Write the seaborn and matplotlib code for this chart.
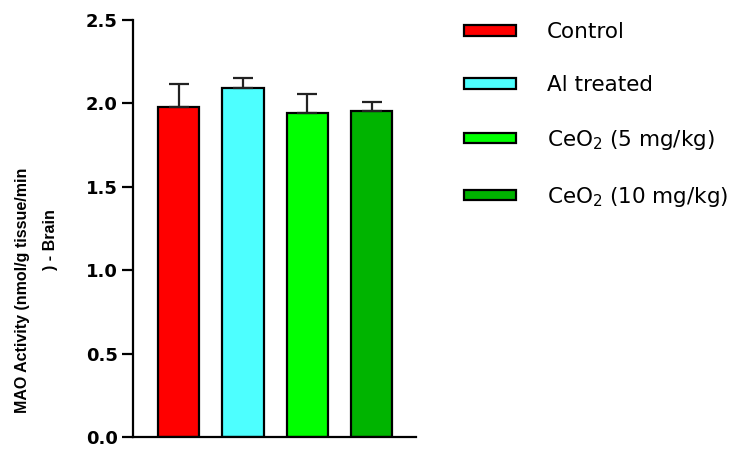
import matplotlib
matplotlib.use("Agg")
import matplotlib.pyplot as plt
import seaborn as sns
import pandas as pd

categories = ["Control", "Al treated", "CeO$_2$ (5 mg/kg)", "CeO$_2$ (10 mg/kg)"]
means = [1.98, 2.09, 1.94, 1.955]
errors = [0.135, 0.065, 0.115, 0.055]
colors = ["#FF0000", "#4DFFFF", "#00FF00", "#00B400"]
yticks = [0.0, 0.5, 1.0, 1.5, 2.0, 2.5]

sns.set_theme(style="ticks")
plt.rcParams["font.family"] = ["DejaVu Sans"]
plt.rcParams["text.color"] = "black"
plt.rcParams["axes.labelcolor"] = "black"
plt.rcParams["ytick.color"] = "black"

df = pd.DataFrame({"group": categories, "value": means})

fig = plt.figure(figsize=(7.47, 4.5), dpi=100)
ax = fig.add_axes([133 / 747, 1 - 437 / 450, (416 - 133) / 747, (437 - 20) / 450])

sns.barplot(data=df, x="group", y="value", hue="group", order=categories,
            hue_order=categories, palette=colors, width=0.64, dodge=False,
            saturation=1, edgecolor="black", linewidth=1.6, errorbar=None,
            ax=ax, legend=True)

xpos = list(range(len(categories)))
ax.errorbar(xpos, means, yerr=[[0] * len(errors), errors], fmt="none",
            ecolor="#222222", elinewidth=1.6, capsize=7.5, capthick=1.6, zorder=1)

ax.set_xlim(-0.71, 3.69)
ax.set_ylim(0, 2.5)
ax.set_yticks(yticks)
ax.set_yticklabels([f"{t:.1f}" for t in yticks], fontsize=13, fontweight="bold",
                   color="black")
ax.set_xticks([])
ax.set_xlabel("")
ax.set_ylabel("")
for s in ["top", "right"]:
    ax.spines[s].set_visible(False)
for s in ["left", "bottom"]:
    ax.spines[s].set_linewidth(1.6)
    ax.spines[s].set_color("black")
ax.tick_params(axis="y", length=8, width=1.6, pad=3, colors="black")

handles, labels = ax.get_legend_handles_labels()
ax.get_legend().remove()
fig.legend(handles, labels, loc="upper left", bbox_to_anchor=(445 / 747, 1 - 3 / 450),
           frameon=False, fontsize=15.5, handlelength=2.42, handleheight=0.37,
           handletextpad=1.4, labelspacing=1.52, labelcolor="black")

fig.text(23 / 747, 1 - 290 / 450, "MAO Activity (nmol/g tissue/min", rotation=90,
         ha="center", va="center", fontsize=11.5, fontweight="bold",
         family=["Liberation Sans", "DejaVu Sans"])
fig.text(51 / 747, 1 - 240 / 450, ") - Brain", rotation=90,
         ha="center", va="center", fontsize=11.5, fontweight="bold",
         family=["Liberation Sans", "DejaVu Sans"])

fig.savefig("out.png", dpi=100)
